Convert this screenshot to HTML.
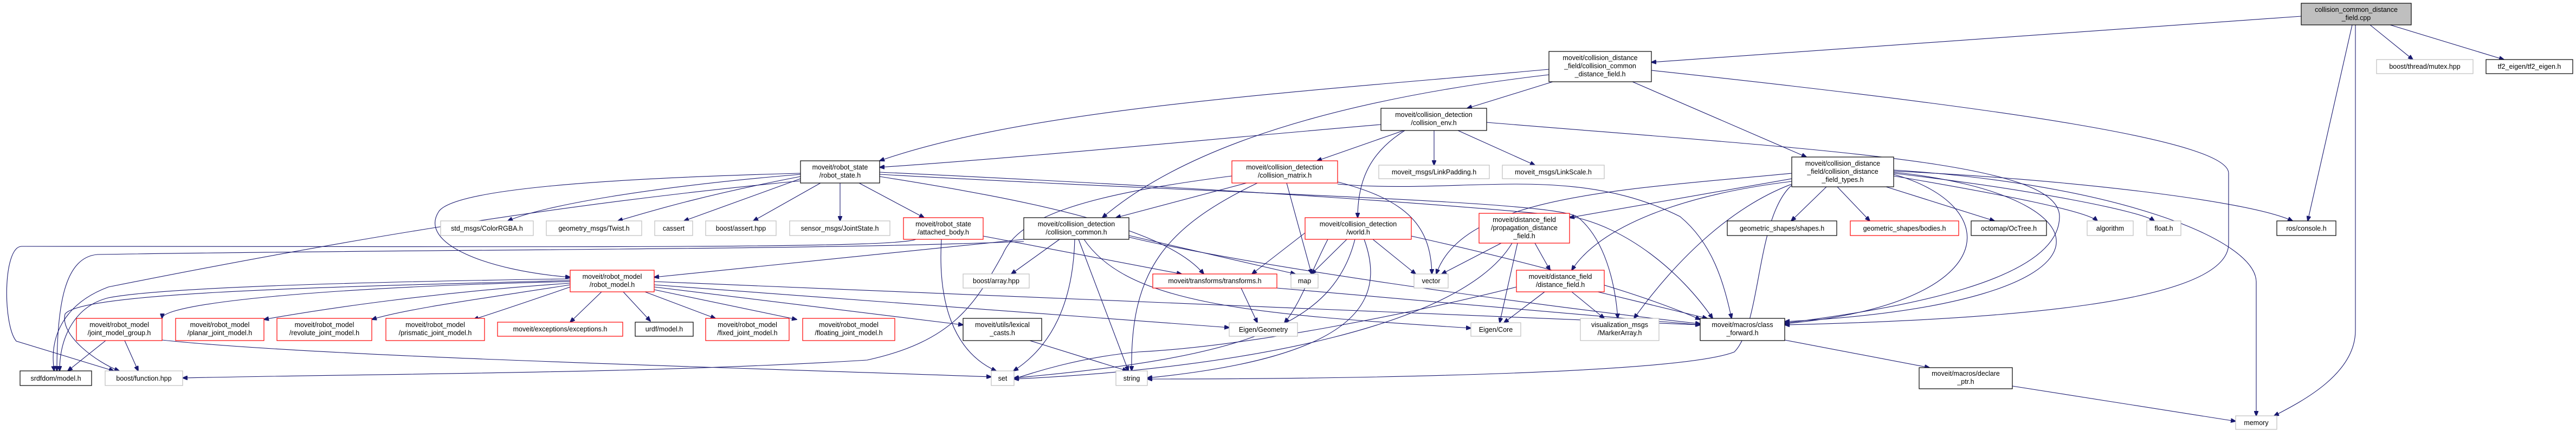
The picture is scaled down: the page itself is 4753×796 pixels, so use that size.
<!DOCTYPE html>
<html><head><meta charset="utf-8"><style>
html,body{margin:0;padding:0;background:#fff;}
svg{display:block;}
text{font-family:"Liberation Sans",sans-serif;font-size:12.5px;fill:#000;}
.e{fill:none;stroke:#191970;stroke-width:1.1;}
.n{fill:#fff;stroke-width:1.2;}
.b{stroke:#000;}.g{stroke:#bfbfbf;}.r{stroke:#ff0000;}
</style></head><body>
<svg width="4753" height="796" viewBox="0 0 4753 796" xmlns="http://www.w3.org/2000/svg">
<defs><marker id="a" markerWidth="10" markerHeight="8" refX="9" refY="4" orient="auto" markerUnits="userSpaceOnUse"><path d="M0,0 L10,4 L0,8 z" fill="#191970" stroke="#191970"/></marker></defs>
<g marker-end="url(#a)">
<path class="e" d="M4246,30 L3047,115"/>
<path class="e" d="M4340,46 L4258,408"/>
<path class="e" d="M4346,46 L4346,610 C4346,690 4250,740 4196,768"/>
<path class="e" d="M4373,46 L4452,110"/>
<path class="e" d="M4410,46 L4620,110"/>
<path class="e" d="M2858,128 C2400,170 1900,200 1623,297"/>
<path class="e" d="M2858,138 C2500,180 2200,260 2034,402"/>
<path class="e" d="M2865,151 L2707,200"/>
<path class="e" d="M3012,151 L3333,290"/>
<path class="e" d="M3047,130 C3700,200 4112,260 4112,320 L4112,450 C4112,560 3700,590 3293,600"/>
<path class="e" d="M2548,230 C2200,260 1900,290 1623,309"/>
<path class="e" d="M2590,241 L2430,297"/>
<path class="e" d="M2646,241 L2646,305"/>
<path class="e" d="M2690,241 L2832,305"/>
<path class="e" d="M2592,241 C2530,280 2505,330 2505,402"/>
<path class="e" d="M2743,226 C3400,280 3800,300 3800,400 C3800,520 3500,570 3293,597"/>
<path class="e" d="M2300,338 L2059,402"/>
<path class="e" d="M2320,338 C2150,420 2085,500 2088,685"/>
<path class="e" d="M2374,338 L2420,506"/>
<path class="e" d="M2468,336 C2600,370 2640,420 2642,506"/>
<path class="e" d="M2468,340 C2700,360 2900,300 3100,400 C3160,450 3180,520 3195,588"/>
<path class="e" d="M2273,325 C2000,360 1880,400 1850,470 C1800,560 1760,630 1600,665 C1200,690 700,690 337,698"/>
<path class="e" d="M1889,442 L1207,512"/>
<path class="e" d="M1955,442 L1866,506"/>
<path class="e" d="M1983,442 C1980,560 1940,640 1870,685"/>
<path class="e" d="M1990,442 L2082,685"/>
<path class="e" d="M2083,435 L2390,506"/>
<path class="e" d="M2083,438 C2300,490 2800,560 3137,598"/>
<path class="e" d="M2000,442 C2080,560 2300,580 2714,606"/>
<path class="e" d="M1889,446 C1500,462 800,460 180,470 C120,475 105,560 105,685"/>
<path class="e" d="M1737,442 C1730,560 1760,650 1838,685"/>
<path class="e" d="M1814,436 L2180,506"/>
<path class="e" d="M1690,442 C1650,460 1000,455 40,455 C5,455 5,600 30,630 L210,685"/>
<path class="e" d="M1477,330 L1262,408"/>
<path class="e" d="M1514,338 L1390,408"/>
<path class="e" d="M1550,338 L1550,408"/>
<path class="e" d="M1585,338 L1705,402"/>
<path class="e" d="M1477,322 C1200,345 1000,380 937,408"/>
<path class="e" d="M1477,326 C1300,360 1200,390 1140,408"/>
<path class="e" d="M1477,320 C1100,330 840,350 810,390 C770,450 900,500 1052,512"/>
<path class="e" d="M1477,334 C1000,380 600,450 200,530 C120,560 90,620 100,685"/>
<path class="e" d="M1623,326 C1900,370 2150,420 2221,506"/>
<path class="e" d="M1623,318 C2300,350 2700,380 2900,400 C3000,420 3100,500 3160,588"/>
<path class="e" d="M1623,322 C2300,360 2850,370 2910,400 C2960,440 2980,520 2985,588"/>
<path class="e" d="M1052,520 C600,530 300,560 299,588"/>
<path class="e" d="M1052,523 C800,540 600,570 487,590"/>
<path class="e" d="M1052,526 C900,550 750,570 686,590"/>
<path class="e" d="M1052,530 C980,555 920,575 874,590"/>
<path class="e" d="M1110,539 L1052,595"/>
<path class="e" d="M1150,539 L1200,593"/>
<path class="e" d="M1190,539 L1320,588"/>
<path class="e" d="M1207,535 L1470,590"/>
<path class="e" d="M1207,530 L1777,600"/>
<path class="e" d="M1207,526 L2268,605"/>
<path class="e" d="M1207,520 L3137,600"/>
<path class="e" d="M1052,515 C700,520 300,530 200,550 C140,565 110,620 110,685"/>
<path class="e" d="M1052,518 C600,530 150,540 120,580 C110,620 180,670 220,685"/>
<path class="e" d="M195,629 L125,685"/>
<path class="e" d="M230,629 L255,685"/>
<path class="e" d="M299,628 C600,660 1400,680 1829,696"/>
<path class="e" d="M2290,532 L2320,596"/>
<path class="e" d="M2356,532 L3137,600"/>
<path class="e" d="M2408,430 L2310,506"/>
<path class="e" d="M2485,442 L2420,506"/>
<path class="e" d="M2533,442 L2612,506"/>
<path class="e" d="M2450,442 C2420,500 2400,560 2370,596"/>
<path class="e" d="M2500,442 C2460,600 2300,660 1871,698"/>
<path class="e" d="M2517,442 C2560,560 2500,660 2117,698"/>
<path class="e" d="M2604,436 C2800,480 3000,530 3137,590"/>
<path class="e" d="M2770,449 L2660,506"/>
<path class="e" d="M2800,449 L2767,596"/>
<path class="e" d="M2832,449 L2860,499"/>
<path class="e" d="M2790,449 C2700,600 2300,680 1871,700"/>
<path class="e" d="M2798,530 C2600,580 2300,640 2100,650 C1990,660 1900,690 1871,700"/>
<path class="e" d="M2850,539 L2775,596"/>
<path class="e" d="M2900,539 L2960,588"/>
<path class="e" d="M2948,539 L3150,588"/>
<path class="e" d="M3370,345 L3305,408"/>
<path class="e" d="M3390,345 L3450,408"/>
<path class="e" d="M3480,345 L3680,408"/>
<path class="e" d="M3494,325 C3700,360 3850,390 3870,408"/>
<path class="e" d="M3494,320 C3750,350 3950,390 3975,408"/>
<path class="e" d="M3494,316 C3800,330 4150,370 4230,408"/>
<path class="e" d="M3494,314 C3900,340 4160,440 4163,520 L4163,768"/>
<path class="e" d="M3306,320 C3000,350 2700,360 2650,506"/>
<path class="e" d="M3306,330 L2896,402"/>
<path class="e" d="M3306,335 C3100,360 2950,420 2900,499"/>
<path class="e" d="M3306,340 C3200,380 3100,470 3015,588"/>
<path class="e" d="M3494,318 C3900,360 3950,560 3293,594"/>
<path class="e" d="M3494,322 C3700,380 3700,560 3293,598"/>
<path class="e" d="M3306,342 C3240,400 3250,600 3200,650 C3100,690 2500,700 2117,700"/>
<path class="e" d="M3293,628 L3560,679"/>
<path class="e" d="M3713,713 L4125,778"/>
<path class="e" d="M1900,629 L2080,685"/>
</g>
<g>
<rect x="4246" y="6" width="203" height="40" fill="#bfbfbf" stroke="#000" stroke-width="1.2"/>
<text x="4347.5" y="22" text-anchor="middle">collision_common_distance</text><text x="4347.5" y="37" text-anchor="middle">_field.cpp</text>
<rect class="n g" x="4385" y="110" width="178" height="26"/><text x="4474" y="127" text-anchor="middle">boost/thread/mutex.hpp</text>
<rect class="n b" x="4587" y="110" width="160" height="26"/><text x="4667" y="127" text-anchor="middle">tf2_eigen/tf2_eigen.h</text>
<rect class="n b" x="2858" y="95" width="189" height="56"/><text x="2952.5" y="111" text-anchor="middle">moveit/collision_distance</text><text x="2952.5" y="126" text-anchor="middle">_field/collision_common</text><text x="2952.5" y="141" text-anchor="middle">_distance_field.h</text>
<rect class="n b" x="2548" y="200" width="195" height="41"/><text x="2645.5" y="216" text-anchor="middle">moveit/collision_detection</text><text x="2645.5" y="231" text-anchor="middle">/collision_env.h</text>
<rect class="n g" x="2544" y="305" width="204" height="25"/><text x="2646" y="322" text-anchor="middle">moveit_msgs/LinkPadding.h</text>
<rect class="n g" x="2772" y="305" width="188" height="25"/><text x="2866" y="322" text-anchor="middle">moveit_msgs/LinkScale.h</text>
<rect class="n b" x="3306" y="290" width="188" height="55"/><text x="3400" y="306" text-anchor="middle">moveit/collision_distance</text><text x="3400" y="321" text-anchor="middle">_field/collision_distance</text><text x="3400" y="336" text-anchor="middle">_field_types.h</text>
<rect class="n b" x="1477" y="297" width="146" height="41"/><text x="1550" y="313" text-anchor="middle">moveit/robot_state</text><text x="1550" y="328" text-anchor="middle">/robot_state.h</text>
<rect class="n r" x="2273" y="297" width="195" height="41"/><text x="2370.5" y="313" text-anchor="middle">moveit/collision_detection</text><text x="2370.5" y="328" text-anchor="middle">/collision_matrix.h</text>
<rect class="n g" x="813" y="408" width="171" height="27"/><text x="898.5" y="426" text-anchor="middle">std_msgs/ColorRGBA.h</text>
<rect class="n g" x="1008" y="408" width="176" height="27"/><text x="1096" y="426" text-anchor="middle">geometry_msgs/Twist.h</text>
<rect class="n g" x="1208" y="408" width="70" height="27"/><text x="1243" y="426" text-anchor="middle">cassert</text>
<rect class="n g" x="1302" y="408" width="130" height="27"/><text x="1367" y="426" text-anchor="middle">boost/assert.hpp</text>
<rect class="n g" x="1457" y="408" width="185" height="27"/><text x="1549.5" y="426" text-anchor="middle">sensor_msgs/JointState.h</text>
<rect class="n r" x="1667" y="402" width="147" height="40"/><text x="1740.5" y="418" text-anchor="middle">moveit/robot_state</text><text x="1740.5" y="433" text-anchor="middle">/attached_body.h</text>
<rect class="n b" x="1889" y="402" width="194" height="40"/><text x="1986" y="418" text-anchor="middle">moveit/collision_detection</text><text x="1986" y="433" text-anchor="middle">/collision_common.h</text>
<rect class="n r" x="2408" y="402" width="196" height="40"/><text x="2506" y="418" text-anchor="middle">moveit/collision_detection</text><text x="2506" y="433" text-anchor="middle">/world.h</text>
<rect class="n r" x="2729" y="394" width="167" height="55"/><text x="2812.5" y="410" text-anchor="middle">moveit/distance_field</text><text x="2812.5" y="425" text-anchor="middle">/propagation_distance</text><text x="2812.5" y="440" text-anchor="middle">_field.h</text>
<rect class="n b" x="3187" y="408" width="202" height="27"/><text x="3288" y="426" text-anchor="middle">geometric_shapes/shapes.h</text>
<rect class="n r" x="3414" y="408" width="200" height="27"/><text x="3514" y="426" text-anchor="middle">geometric_shapes/bodies.h</text>
<rect class="n b" x="3637" y="408" width="139" height="27"/><text x="3706.5" y="426" text-anchor="middle">octomap/OcTree.h</text>
<rect class="n g" x="3851" y="408" width="85" height="27"/><text x="3893.5" y="426" text-anchor="middle">algorithm</text>
<rect class="n g" x="3961" y="408" width="63" height="27"/><text x="3992.5" y="426" text-anchor="middle">float.h</text>
<rect class="n b" x="4201" y="408" width="109" height="27"/><text x="4255.5" y="426" text-anchor="middle">ros/console.h</text>
<rect class="n r" x="1052" y="499" width="155" height="40"/><text x="1129.5" y="515" text-anchor="middle">moveit/robot_model</text><text x="1129.5" y="530" text-anchor="middle">/robot_model.h</text>
<rect class="n g" x="1777" y="506" width="122" height="26"/><text x="1838" y="523" text-anchor="middle">boost/array.hpp</text>
<rect class="n r" x="2127" y="506" width="229" height="26"/><text x="2241.5" y="523" text-anchor="middle">moveit/transforms/transforms.h</text>
<rect class="n g" x="2382" y="506" width="50" height="26"/><text x="2407" y="523" text-anchor="middle">map</text>
<rect class="n g" x="2609" y="506" width="63" height="26"/><text x="2640.5" y="523" text-anchor="middle">vector</text>
<rect class="n r" x="2798" y="499" width="162" height="40"/><text x="2879" y="515" text-anchor="middle">moveit/distance_field</text><text x="2879" y="530" text-anchor="middle">/distance_field.h</text>
<rect class="n r" x="141" y="588" width="158" height="41"/><text x="220" y="604" text-anchor="middle">moveit/robot_model</text><text x="220" y="619" text-anchor="middle">/joint_model_group.h</text>
<rect class="n r" x="324" y="588" width="163" height="41"/><text x="405.5" y="604" text-anchor="middle">moveit/robot_model</text><text x="405.5" y="619" text-anchor="middle">/planar_joint_model.h</text>
<rect class="n r" x="511" y="588" width="175" height="41"/><text x="598.5" y="604" text-anchor="middle">moveit/robot_model</text><text x="598.5" y="619" text-anchor="middle">/revolute_joint_model.h</text>
<rect class="n r" x="712" y="588" width="182" height="41"/><text x="803" y="604" text-anchor="middle">moveit/robot_model</text><text x="803" y="619" text-anchor="middle">/prismatic_joint_model.h</text>
<rect class="n r" x="918" y="595" width="231" height="26"/><text x="1033.5" y="612" text-anchor="middle">moveit/exceptions/exceptions.h</text>
<rect class="n b" x="1172" y="595" width="107" height="26"/><text x="1225.5" y="612" text-anchor="middle">urdf/model.h</text>
<rect class="n r" x="1302" y="588" width="154" height="41"/><text x="1379" y="604" text-anchor="middle">moveit/robot_model</text><text x="1379" y="619" text-anchor="middle">/fixed_joint_model.h</text>
<rect class="n r" x="1481" y="588" width="170" height="41"/><text x="1566" y="604" text-anchor="middle">moveit/robot_model</text><text x="1566" y="619" text-anchor="middle">/floating_joint_model.h</text>
<rect class="n b" x="1777" y="588" width="145" height="41"/><text x="1849.5" y="604" text-anchor="middle">moveit/utils/lexical</text><text x="1849.5" y="619" text-anchor="middle">_casts.h</text>
<rect class="n g" x="2268" y="596" width="126" height="25"/><text x="2331" y="613" text-anchor="middle">Eigen/Geometry</text>
<rect class="n g" x="2714" y="596" width="92" height="25"/><text x="2760" y="613" text-anchor="middle">Eigen/Core</text>
<rect class="n g" x="2916" y="588" width="145" height="41"/><text x="2988.5" y="604" text-anchor="middle">visualization_msgs</text><text x="2988.5" y="619" text-anchor="middle">/MarkerArray.h</text>
<rect class="n b" x="3137" y="588" width="156" height="41"/><text x="3215" y="604" text-anchor="middle">moveit/macros/class</text><text x="3215" y="619" text-anchor="middle">_forward.h</text>
<rect class="n b" x="37" y="685" width="132" height="27"/><text x="103" y="703" text-anchor="middle">srdfdom/model.h</text>
<rect class="n g" x="194" y="685" width="143" height="27"/><text x="265.5" y="703" text-anchor="middle">boost/function.hpp</text>
<rect class="n g" x="1829" y="685" width="42" height="27"/><text x="1850" y="703" text-anchor="middle">set</text>
<rect class="n g" x="2059" y="685" width="58" height="27"/><text x="2088" y="703" text-anchor="middle">string</text>
<rect class="n b" x="3541" y="679" width="172" height="39"/><text x="3627" y="694" text-anchor="middle">moveit/macros/declare</text><text x="3627" y="709" text-anchor="middle">_ptr.h</text>
<rect class="n g" x="4125" y="768" width="76" height="25"/><text x="4163" y="785" text-anchor="middle">memory</text>
</g>
</svg>
</body></html>
